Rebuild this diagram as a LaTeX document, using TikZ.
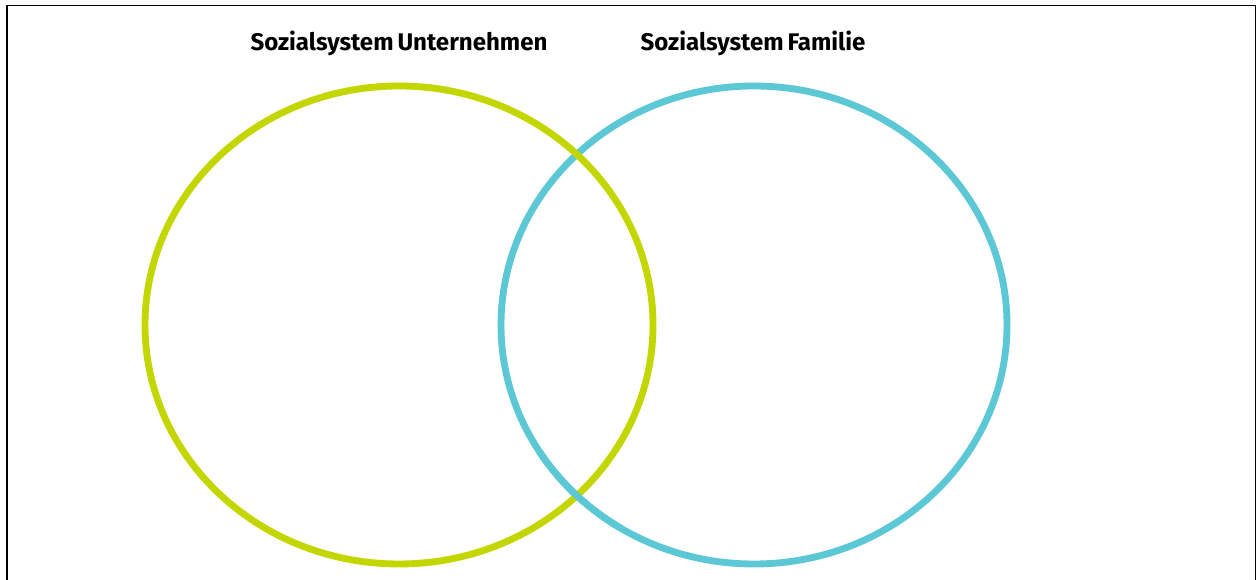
\documentclass[tikz,border=0pt]{standalone}
\usepackage{fontspec}
\setmainfont{Fira Sans}
\definecolor{lime}{RGB}{196,214,0}
\definecolor{aqua}{RGB}{92,200,214}
\begin{document}
\begin{tikzpicture}[x=0.02cm,y=0.02cm]
\useasboundingbox (0,0) rectangle (1257,580);
\draw [line width=0.6pt] (7,0) -- (7,574.5) -- (1255.5,574.5) -- (1255.5,0);

\draw [aqua,line width=3.9pt] (754,255) ellipse [x radius=253,y radius=239];
\draw [lime,line width=3.9pt] (399,255) ellipse [x radius=254,y radius=239];
\draw [aqua,line width=3.9pt] (754,255) ++(212:253 and 239) arc [start angle=212,end angle=238,x radius=253,y radius=239];

\node (ent) at (399,537) {\fontsize{13.7}{16}\selectfont\bfseries Sozialsystem\hspace{-1pt} Unternehmen};
\node (fam) at (753,537) {\fontsize{13.7}{16}\selectfont\bfseries Sozialsystem\hspace{-1pt} Familie};
\end{tikzpicture}
\end{document}
